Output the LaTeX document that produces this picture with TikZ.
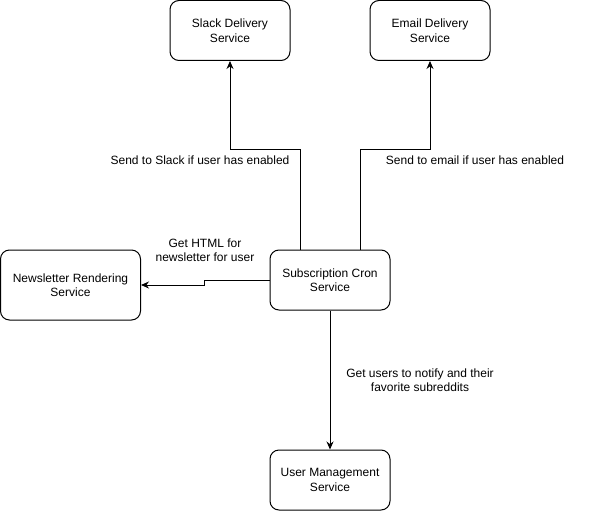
\documentclass[tikz,border=0pt]{standalone}
\usepackage{fontspec}
\setmainfont{Liberation Sans}
\usepackage{tikz}
\usetikzlibrary{positioning, arrows.meta}

\begin{document}
\begin{tikzpicture}[x=1pt,y=-1pt]
	\tikzstyle{service}=[draw=black,line width=1pt,rounded corners=9pt,minimum width=120pt,minimum height=60pt,align=center,font=\fontsize{12pt}{14.5pt}\selectfont]
	\tikzstyle{note}=[align=center,font=\fontsize{12pt}{14.5pt}\selectfont]
	\tikzstyle{flow}=[draw=black,line width=1pt,-{Stealth[length=8pt,width=7pt]}]
	\useasboundingbox (0,0) rectangle (591,511);
	\node[service](slack) at (230,30.5){Slack Delivery\\Service};
	\node[service](email) at (430,30.5){Email Delivery\\Service};
	\node[service,minimum width=140pt,minimum height=70pt](render) at (70.5,285){Newsletter Rendering\\Service};
	\node[service](cron) at (330,280){Subscription Cron\\Service};
	\node[service](users) at (330,480){User Management\\Service};
	% labels
	\node[note](slacknote) at (200,160){Send to Slack if user has enabled};
	\node[note](emailnote) at (475,160){Send to email if user has enabled};
	\node[note](rendernote) at (205,250){Get HTML for\\newsletter for user};
	\node[note](usersnote) at (420,380){Get users to notify and their\\favorite subreddits};
	% connectors
	\draw[flow] ([xshift=-30pt]cron.north) -- ++(0,-100) -| (slack.south);
	\draw[flow] ([xshift=30pt]cron.north) -- ++(0,-100) -| (email.south);
	\draw[flow] (cron.west) -- ++(-65,0) |- (render.east);
	\draw[flow] (cron.south) -- (users.north);
\end{tikzpicture}
\end{document}
